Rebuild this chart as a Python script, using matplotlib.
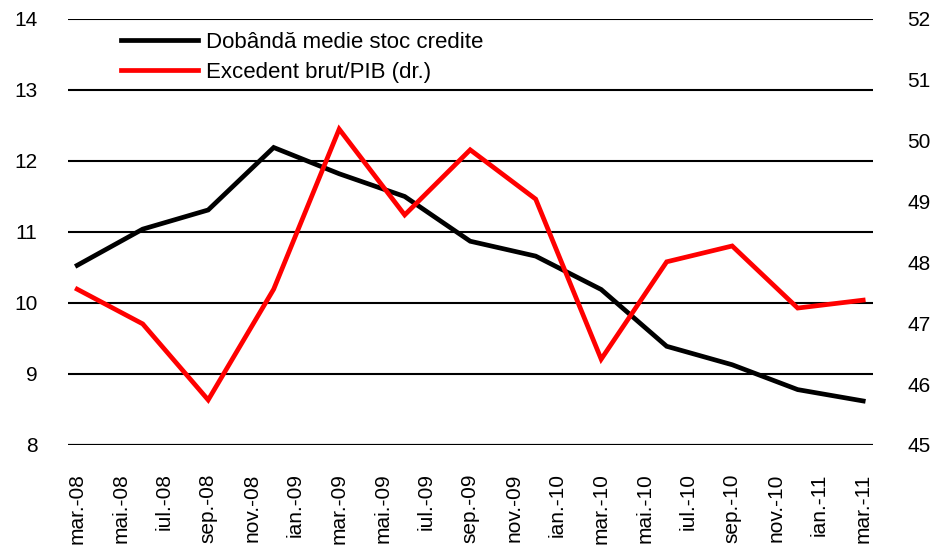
# -*- coding: utf-8 -*-
# Dobanda medie stoc credite vs Excedent brut/PIB, mar.-08 .. mar.-11

import numpy as np
import matplotlib
matplotlib.use("Agg")
import matplotlib.pyplot as plt

plt.rcParams['font.family'] = ['Liberation Sans', 'DejaVu Sans']

# quarterly observations (year, month)
periods = [(2008, 3), (2008, 6), (2008, 9), (2008, 12),
           (2009, 3), (2009, 6), (2009, 9), (2009, 12),
           (2010, 3), (2010, 6), (2010, 9), (2010, 12),
           (2011, 3)]
dobanda = [10.53, 11.04, 11.31, 12.19, 11.82, 11.50, 10.87,
           10.66, 10.19, 9.39, 9.13, 8.78, 8.62]
excedent = [47.56, 46.99, 45.74, 47.56, 50.19, 48.78, 49.85,
            49.04, 46.41, 48.01, 48.27, 47.25, 47.38]

luni = ["ian.", "feb.", "mar.", "apr.", "mai.", "iun.",
        "iul.", "aug.", "sep.", "oct.", "nov.", "dec."]

def month_index(y, m):
    # months since mar.-08 (category axis in months)
    return (y - 2008) * 12 + (m - 3)

x = [month_index(y, m) for y, m in periods]

# tick labels every two months
tick_pos = np.arange(0, 37, 2)
tick_lab = []
for t in tick_pos:
    m = (t + 2) % 12
    y = 2008 + (t + 2) // 12
    tick_lab.append(luni[m] + "-" + str(y)[2:])

fig = plt.figure(figsize=(9.33, 5.47), dpi=100)
ax = fig.add_axes([0.0729, 0.1865, 0.8628, 0.7788])
ax2 = ax.twinx()

# horizontal gridlines
for v in range(9, 15):
    ax.axhline(v, color='black', lw=1.5, zorder=1)
ax.axhline(8, color='black', lw=2.3, zorder=1)

l1, = ax.plot(x, dobanda, color='black', lw=3.4, label='Dobândă medie stoc credite',
              solid_joinstyle='miter', zorder=3)
l2, = ax2.plot(x, excedent, color='#ff0000', lw=3.4, label='Excedent brut/PIB (dr.)',
               solid_joinstyle='miter', zorder=3)

ax.set_xlim(-0.42, 36.45)
ax.set_ylim(8, 14)
ax2.set_ylim(45, 52)
ax.set_yticks(range(8, 15))
ax2.set_yticks(range(45, 53))
ax.set_xticks(tick_pos)
ax.set_xticklabels(tick_lab, rotation=90)

for a in (ax, ax2):
    for s in a.spines.values():
        s.set_visible(False)
ax.tick_params(axis='both', length=0, labelsize=15)
ax.tick_params(axis='y', pad=22)
ax.tick_params(axis='x', pad=20.5)
ax2.tick_params(axis='y', length=0, labelsize=15, pad=24.5)

ax2.legend(handles=[l1, l2], loc='upper left', bbox_to_anchor=(0.055, 0.99),
           frameon=False, fontsize=16, handlelength=3.45, handletextpad=0.35,
           labelspacing=0.38, borderaxespad=0)

plt.savefig("out.png", dpi=100)
